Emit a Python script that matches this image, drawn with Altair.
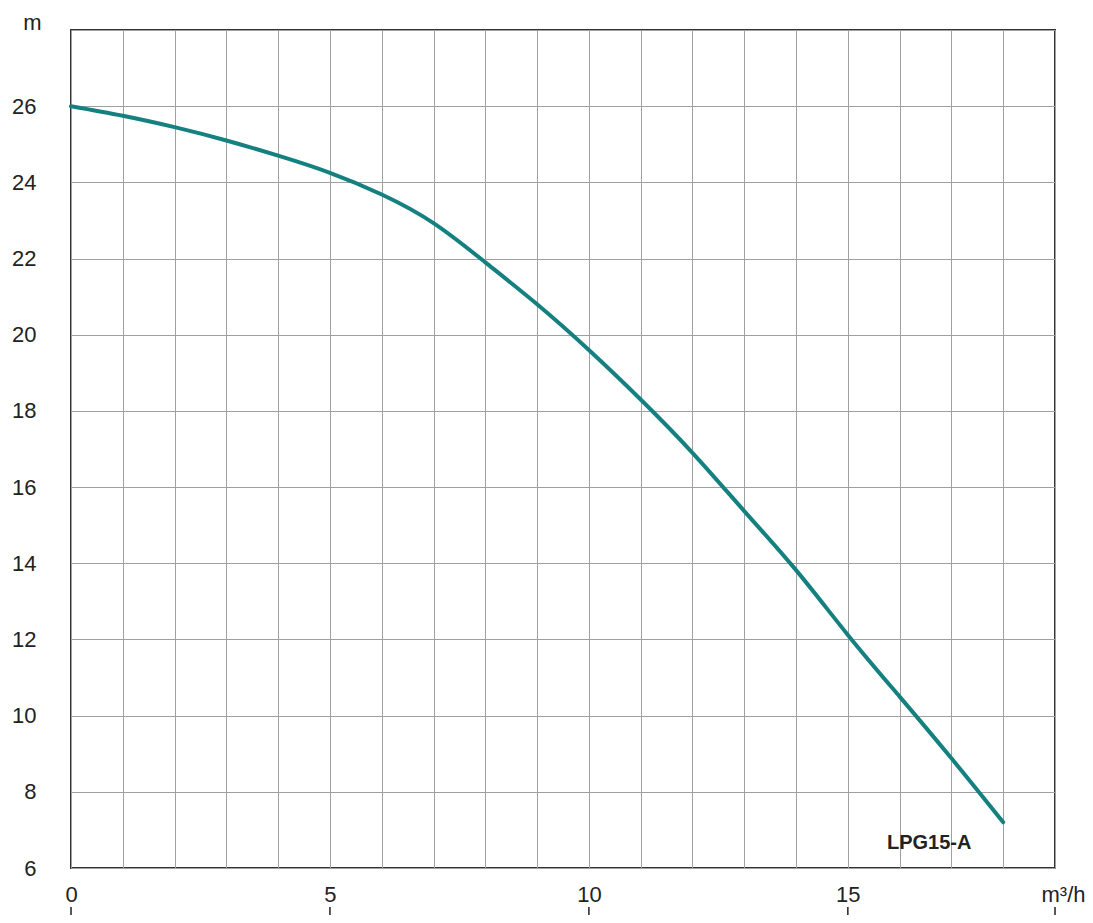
import altair as alt
import pandas as pd

# Pump curve LPG15-A : flow (m3/h) vs head (m)
flow = [0, 1, 2, 3, 4, 5, 6, 7, 8, 9, 10, 11, 12, 13, 14, 15, 16, 17, 18]
head = [26.0, 25.75, 25.45, 25.1, 24.7, 24.25, 23.68, 22.93, 21.9, 20.8,
        19.6, 18.3, 16.9, 15.37, 13.82, 12.12, 10.5, 8.88, 7.2]

x_grid_values = list(range(0, 20))
x_label_values = [0, 5, 10, 15, 19]
y_values = [6, 8, 10, 12, 14, 16, 18, 20, 22, 24, 26, 28]

model_name = ["LPG15-A"]
model_x = [16.57]
model_y = [6.65]

FONT = "Liberation Sans"

curve_df = pd.DataFrame({"flow": flow, "head": head})
ticks_df = pd.DataFrame({"x": x_label_values})
label_df = pd.DataFrame({"x": model_x, "y": model_y, "t": model_name})

x_scale = alt.Scale(domain=[0, 19], nice=False, zero=False)
y_scale = alt.Scale(domain=[6, 28], nice=False, zero=False)

x_axis = alt.Axis(
    values=x_grid_values,
    labelExpr="datum.value == 19 ? 'm³/h' : (datum.value % 5 == 0 ? datum.label : '')",
    grid=True, gridColor="#a0a0a0", gridWidth=1,
    ticks=False, domain=False,
    labelPadding=16, labelFontSize=22, labelFont=FONT, labelColor="#222",
    labelFlush=False, labelOverlap=False, labelBound=False,
    labelOffset={"condition": {"test": "datum.value == 19", "value": 8}, "value": 0},
    title=None,
)
y_axis = alt.Axis(
    values=y_values,
    labelExpr="datum.value == 28 ? '' : datum.label",
    grid=True, gridColor="#a0a0a0", gridWidth=1,
    ticks=False, domain=False,
    labelPadding=35, labelFontSize=22, labelFont=FONT, labelColor="#222",
    labelOverlap=False, labelFlush=False, labelBound=False,
    title="m", titleAngle=0, titleX=-39, titleY=-1, titleAlign="center",
    titleBaseline="alphabetic", titleFontWeight="normal", titleFontSize=22,
    titleFont=FONT, titleColor="#222",
)

line = alt.Chart(curve_df).mark_line(
    color="#14807f", strokeWidth=4, interpolate="natural", strokeCap="round"
).encode(
    x=alt.X("flow:Q", scale=x_scale, axis=x_axis),
    y=alt.Y("head:Q", scale=y_scale, axis=y_axis),
)

text = alt.Chart(label_df).mark_text(
    font=FONT, fontSize=20, fontWeight="bold", color="#222"
).encode(
    x=alt.X("x:Q", scale=x_scale),
    y=alt.Y("y:Q", scale=y_scale),
    text="t:N",
)

ticks = alt.Chart(ticks_df).mark_rule(color="#222", strokeWidth=1.5, clip=False).encode(
    x=alt.X("x:Q", scale=x_scale),
    y=alt.value(877),
    y2=alt.value(885),
)

chart = alt.layer(line, text, ticks).properties(
    width=984, height=838,
    autosize=alt.AutoSizeParams(type="none"),
    padding={"left": 63, "top": 22, "right": 30, "bottom": 47},
).configure_view(stroke="#333", strokeWidth=2)

chart.save("out.html", embed_options={"renderer": "svg", "actions": False})
